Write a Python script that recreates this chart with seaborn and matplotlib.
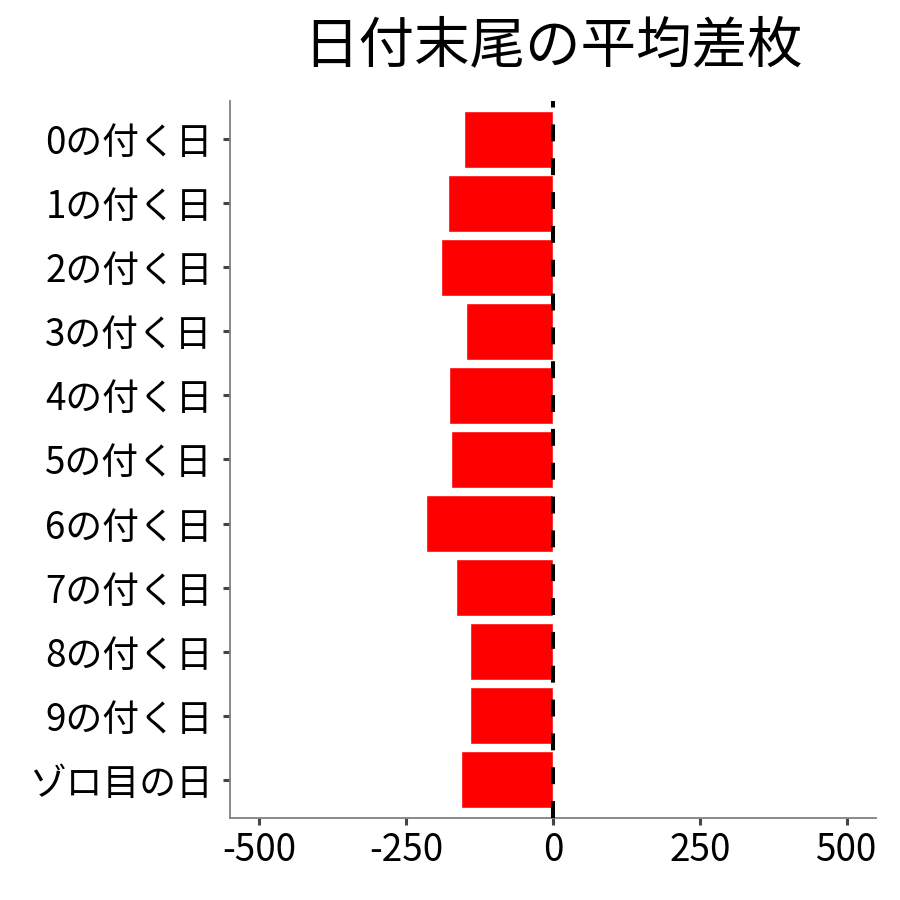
import pandas as pd
import matplotlib
matplotlib.use("Agg")
import matplotlib.pyplot as plt
import seaborn as sns

# -------- données --------
labels = ["0の付く日", "1の付く日", "2の付く日", "3の付く日", "4の付く日",
          "5の付く日", "6の付く日", "7の付く日", "8の付く日", "9の付く日",
          "ゾロ目の日"]
avg_diff = [-151, -178, -190, -148, -177, -173, -216, -166, -141, -141, -156]
xticks = [-500, -250, 0, 250, 500]
title = "日付末尾の平均差枚"

df = pd.DataFrame({"day": labels, "diff": avg_diff})

# -------- style --------
sns.set_theme(style="white")
plt.rcParams["font.family"] = ["Noto Sans CJK JP", "DejaVu Sans"]
plt.rcParams["axes.unicode_minus"] = False

fig = plt.figure(figsize=(9, 9), dpi=100)
ax = fig.add_axes([0.2556, 0.0911, 0.7177, 0.7967])

sns.barplot(data=df, x="diff", y="day", orient="h", color="#ff0000",
            width=0.9, saturation=1, ax=ax, zorder=2)
ax.axvline(0, color="black", lw=2.9, linestyle=(0, (4.2, 4.2)), zorder=3)

ax.set_xlim(-550, 550)
ax.set_ylim(10.6, -0.6)
ax.set_xticks(xticks)
ax.set_xticklabels([str(v) for v in xticks])
ax.set_xlabel("")
ax.set_ylabel("")

for side in ["top", "right"]:
    ax.spines[side].set_visible(False)
for side in ["left", "bottom"]:
    ax.spines[side].set_color("#808080")
    ax.spines[side].set_linewidth(1.3)

ax.tick_params(axis="both", length=5, width=2.2, color="#444444",
               labelsize=26.5, labelcolor="black", pad=4, direction="out",
               bottom=True, left=True)
ax.tick_params(axis="y", pad=7.5)

fig.text(0.6144, 0.948, title, ha="center", va="center", fontsize=40,
         color="black")

fig.savefig("out.png", dpi=100)
